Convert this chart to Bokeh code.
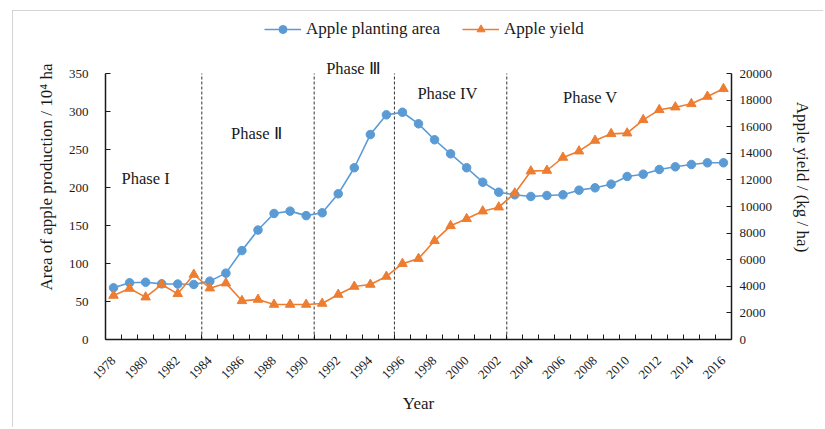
import math
from bokeh.plotting import figure
from bokeh.models import (Range1d, LinearAxis, FixedTicker, Label, Legend, LegendItem)
from bokeh.embed import file_html
from bokeh.resources import INLINE

years = list(range(1978, 2017))
area = [68, 74.6, 75.4, 73.2, 73, 72.4, 76.8, 87.3, 117, 144, 165.8, 168.9, 163, 166.7,
        191.7, 226, 269.7, 295.6, 299, 283.8, 262.8, 244.3, 226, 207, 193.8, 190.4, 188.2,
        189.5, 190.4, 196.5, 199.6, 204.4, 214.5, 217.5, 223.7, 227.2, 230.3, 232.5, 232.5]
yield_ = [3308, 3835, 3183, 4135, 3434, 4887, 3860, 4236, 2907, 3008, 2632, 2632, 2632, 2707,
          3383, 3985, 4135, 4737, 5700, 6080, 7419, 8546, 9073, 9649, 9950, 11003, 12657,
          12707, 13684, 14160, 14962, 15464, 15514, 16516, 17268, 17469, 17719, 18271, 18847]
phase_bounds = [1983.5, 1990.5, 1995.5, 2002.5]
phase_names = ["Phase I", "Phase \u2161", "Phase \u2162", "Phase IV", "Phase V"]
phase_x = [1980.0, 1986.9, 1992.95, 1998.8, 2007.7]
phase_y = [212, 271, 356.6, 323.7, 318.4]
year_labels = list(range(1978, 2017, 2))
area_axis = (0, 350)
yield_axis = (0, 20000)

FONT = "Liberation Serif"
BLUE = "#5B9BD5"
ORANGE = "#ED7D31"
TXT = "#1a1a1a"

# frame extends above the axes (to hold legend and labels); axes are bounded
EXT = (339 - 14) / 266.0
p = figure(width=811, height=417, output_backend="svg", toolbar_location=None,
           x_range=Range1d(1977.5, 2016.5),
           y_range=Range1d(area_axis[0], area_axis[1] * EXT))
p.margin = (10, 0, 0, 12)
p.styles = {"border-left": "1px solid #d4d4d4", "border-top": "1px solid #d4d4d4"}
p.min_border_left = 92
p.min_border_right = 93
p.min_border_top = 3
p.min_border_bottom = 89
p.outline_line_color = None
p.xgrid.grid_line_color = None
p.ygrid.grid_line_color = None
p.extra_y_ranges = {"yield": Range1d(yield_axis[0], yield_axis[1] * EXT)}

# phase boundaries
p.segment(x0=phase_bounds, x1=phase_bounds, y0=[area_axis[0]] * len(phase_bounds),
          y1=[area_axis[1]] * len(phase_bounds), line_color="#333333",
          line_dash="3 2", line_width=1)

# series
l1 = p.line(years, area, color=BLUE, line_width=1.6)
s1 = p.scatter(years, area, marker="circle", size=8.5, color=BLUE)
l2 = p.line(years, yield_, color=ORANGE, line_width=1.6, y_range_name="yield")
s2 = p.scatter(years, yield_, marker="triangle", size=9.5, color=ORANGE, y_range_name="yield")

# x axis
xa = p.xaxis[0]
xa.ticker = FixedTicker(ticks=year_labels, minor_ticks=[y + 0.5 for y in range(1977, 2017)])
xa.major_tick_line_color = None
xa.minor_tick_in = 5
xa.minor_tick_out = 0
xa.minor_tick_line_color = TXT
xa.major_label_orientation = math.pi / 4
xa.major_label_standoff = 13
xa.axis_label = "Year"
xa.axis_label_text_font = FONT
xa.axis_label_text_font_style = "normal"
xa.axis_label_text_font_size = "17px"
xa.axis_label_text_color = TXT
xa.axis_label_standoff = 8
xa.major_label_text_font = FONT
xa.major_label_text_font_size = "13px"
xa.major_label_text_color = TXT
xa.axis_line_color = TXT
xa.axis_line_width = 1.5

ya = p.yaxis[0]
ya.ticker = FixedTicker(ticks=list(range(area_axis[0], area_axis[1] + 1, 50)))
ya.bounds = area_axis
ya.major_tick_in = 5
ya.major_tick_out = 0
ya.major_label_standoff = 17
ya.minor_tick_line_color = None
ya.axis_label = "Area of apple production / 10\u2074 ha"
ya.axis_label_text_font = FONT
ya.axis_label_text_font_style = "normal"
ya.axis_label_text_font_size = "17px"
ya.axis_label_text_color = TXT
ya.axis_label_standoff = 10
ya.major_label_text_font = FONT
ya.major_label_text_font_size = "13px"
ya.major_label_text_color = TXT
ya.axis_line_color = TXT
ya.axis_line_width = 1.5
ya.major_tick_line_color = TXT

ra = LinearAxis(y_range_name="yield",
                ticker=FixedTicker(ticks=list(range(yield_axis[0], yield_axis[1] + 1, 2000))))
ra.bounds = yield_axis
ra.major_tick_in = 5
ra.major_tick_out = 0
ra.major_label_standoff = 8
ra.minor_tick_line_color = None
ra.axis_label = "Apple yield / (kg / ha)"
ra.axis_label_text_font = FONT
ra.axis_label_text_font_style = "normal"
ra.axis_label_text_font_size = "17px"
ra.axis_label_text_color = TXT
ra.axis_label_standoff = 18
ra.major_label_text_font = FONT
ra.major_label_text_font_size = "13px"
ra.major_label_text_color = TXT
ra.axis_line_color = TXT
ra.axis_line_width = 1.5
ra.major_tick_line_color = TXT
p.add_layout(ra, "right")

for name, x, y in zip(phase_names, phase_x, phase_y):
    p.add_layout(Label(x=x, y=y, text=name, text_font=FONT, text_font_size="16.5px",
                       text_align="center", text_baseline="middle", text_color=TXT))

legend = Legend(items=[LegendItem(label="Apple planting area", renderers=[l1, s1]),
                       LegendItem(label="Apple yield", renderers=[l2, s2])],
                orientation="horizontal", location=(159, 300),
                label_text_font=FONT, label_text_font_size="17px",
                label_text_color=TXT,
                glyph_width=37, spacing=22, border_line_color=None,
                background_fill_alpha=0)
p.add_layout(legend)

open("out.html", "w").write(file_html(p, INLINE))
